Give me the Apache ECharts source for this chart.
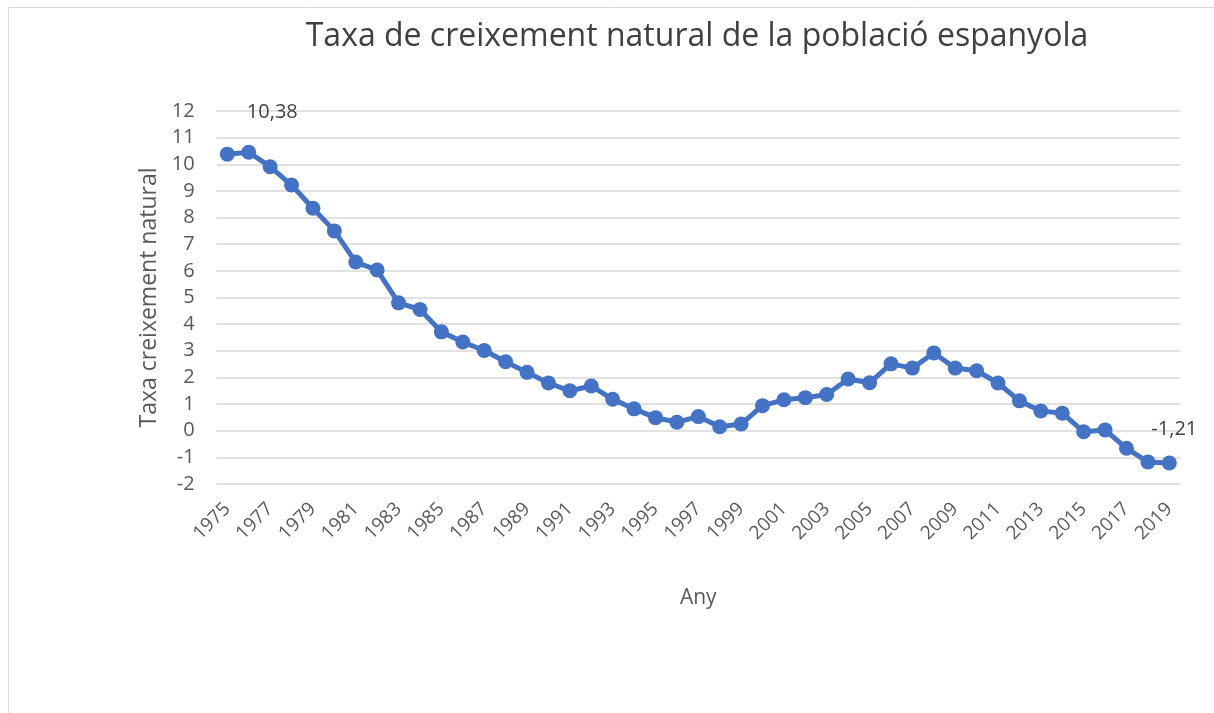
<!DOCTYPE html>
<html><head><meta charset="utf-8">
<script src="https://cdn.jsdelivr.net/npm/echarts@6/dist/echarts.min.js"></script>
<style>html,body{margin:0;padding:0;background:#fff}#c{width:1214px;height:713px}</style>
</head><body><div id="c"></div>
<script>
const years = ["1975","1976","1977","1978","1979","1980","1981","1982","1983","1984","1985","1986","1987","1988","1989","1990","1991","1992","1993","1994","1995","1996","1997","1998","1999","2000","2001","2002","2003","2004","2005","2006","2007","2008","2009","2010","2011","2012","2013","2014","2015","2016","2017","2018","2019"];
const rates = [10.38,10.45,9.91,9.22,8.35,7.50,6.33,6.03,4.80,4.55,3.71,3.33,3.01,2.59,2.19,1.79,1.50,1.68,1.18,0.82,0.49,0.32,0.53,0.15,0.25,0.94,1.16,1.24,1.36,1.94,1.80,2.51,2.35,2.92,2.35,2.25,1.79,1.12,0.74,0.66,-0.04,0.03,-0.66,-1.17,-1.21];
const labelledIdx = [0, 44];
const title = "Taxa de creixement natural de la població espanyola";
const yName = "Taxa creixement natural";
const xName = "Any";

const font = "'Open Sans', 'Liberation Sans', sans-serif";
const chart = echarts.init(document.getElementById('c'), null, {renderer:'canvas'});
chart.setOption({
  animation:false,
  backgroundColor:'#fff',
  graphic:[{type:'rect',shape:{x:8.5,y:7.5,width:1220,height:720},style:{fill:'none',stroke:'#d9d9d9',lineWidth:1}}],
  title:{text:title,left:692,top:16,textAlign:'center',textStyle:{fontFamily:font,fontWeight:'normal',fontSize:32,color:'#404040'}},
  grid:{left:216.6,right:34,top:111,bottom:229},
  xAxis:{type:'category',data:years,boundaryGap:true,
    name:xName,nameLocation:'middle',nameGap:104,nameTextStyle:{fontFamily:font,fontSize:21,color:'#595959'},
    axisLine:{show:false},axisTick:{show:false},
    axisLabel:{interval:1,rotate:45,fontFamily:font,fontSize:19,color:'#595959',margin:22}},
  yAxis:{type:'value',min:-2,max:12,interval:1,
    name:yName,nameLocation:'middle',nameGap:56,nameTextStyle:{fontFamily:font,fontSize:23,color:'#595959'},
    axisLine:{show:false},axisTick:{show:false},
    axisLabel:{fontFamily:font,fontSize:20,color:'#595959',margin:22},
    splitLine:{lineStyle:{color:'#d9d9d9',width:1.5}}},
  series:[{type:'line',showAllSymbol:true,
    data:rates.map((v,i)=>({value:v,label:{show:labelledIdx.includes(i),offset:i===0?[45,-10]:[5,-2]}})),
    lineStyle:{color:'#4472C4',width:5},itemStyle:{color:'#4472C4'},
    symbol:'circle',symbolSize:15,
    label:{show:false,position:'top',distance:14,fontFamily:font,fontSize:20,color:'#404040',
      formatter:p=>String(p.value).replace('.',',')}}]
});
</script></body></html>
